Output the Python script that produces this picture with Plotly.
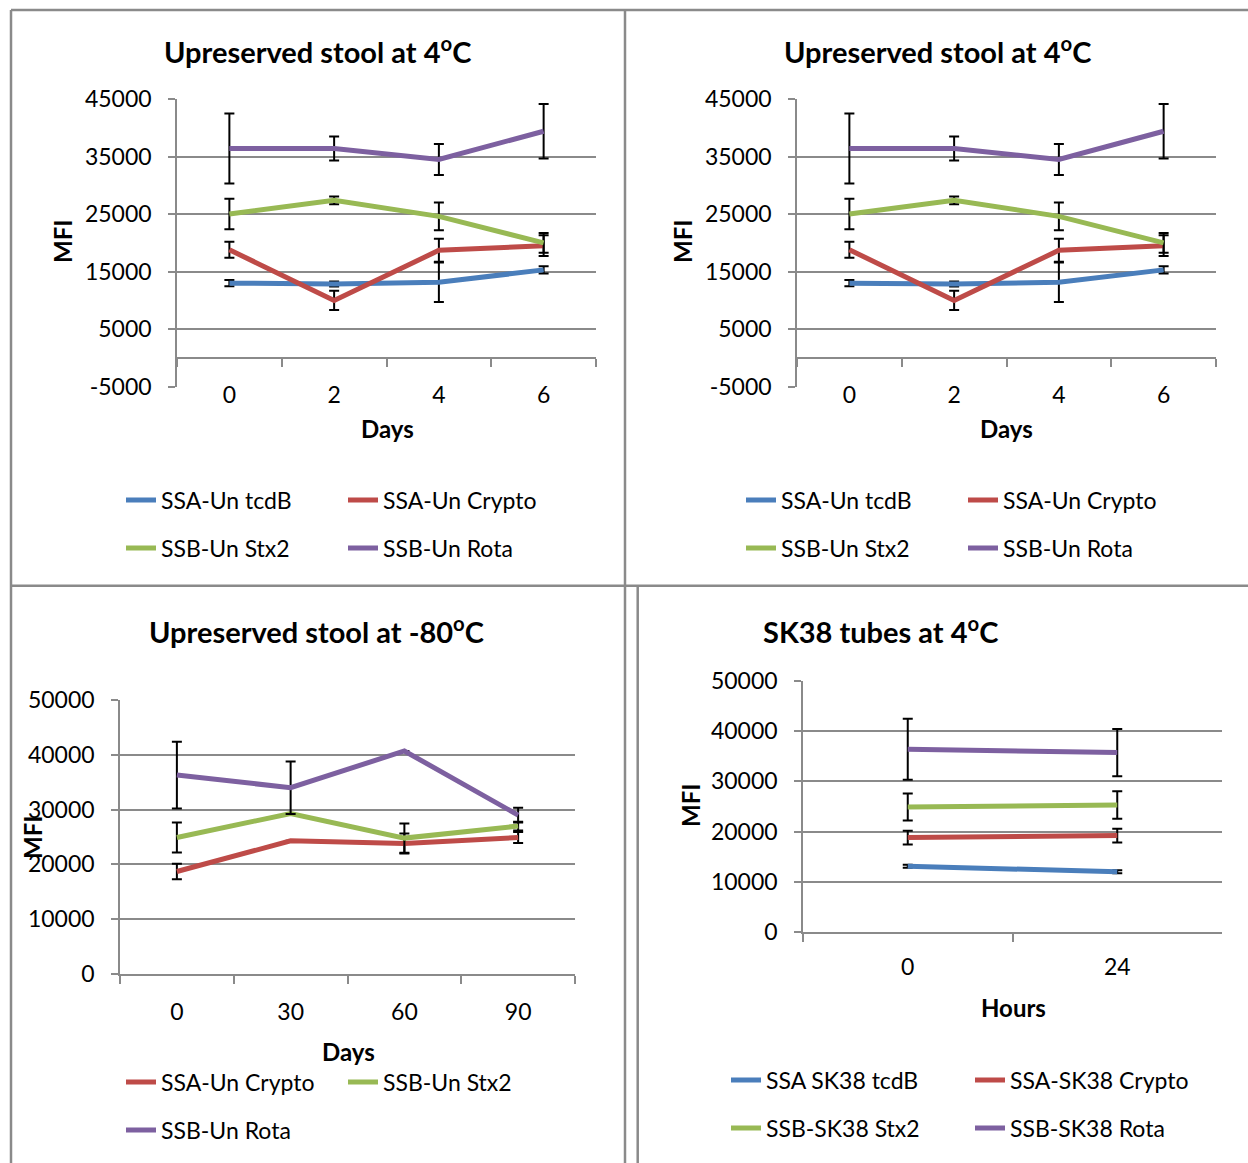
import plotly.graph_objects as go

W, H = 1248, 1163
BLUE = "#4A7EBB"; RED = "#BE4B48"; GREEN = "#98B954"; PURPLE = "#7D60A0"
GRID = "#8A8A8A"
FONT = "Lato"

# ---------------- data ----------------
days_4c = ["0", "2", "4", "6"]
tcdB_4c = [13000, 12850, 13150, 15300]
tcdB_4c_err = [550, 440, 3450, 640]
crypto_4c = [18800, 10000, 18700, 19500]
crypto_4c_err = [1370, 1690, 2000, 1800]
stx2_4c = [25000, 27400, 24600, 20000]
stx2_4c_err = [2650, 670, 2400, 1700]
rota_4c = [36400, 36400, 34500, 39400]
rota_4c_err = [6100, 2100, 2700, 4750]

days_80 = ["0", "30", "60", "90"]
crypto_80 = [18700, 24300, 23800, 24900]
crypto_80_err = [1400, None, 1830, 1000]
stx2_80 = [24900, 29300, 24800, 27000]
stx2_80_err = [2750, None, 2680, 800]
rota_80 = [36300, 34000, 40700, 29000]
rota_80_err = [6100, 4800, None, 1350]

hours_sk = ["0", "24"]
tcdB_sk = [13100, 12000]
tcdB_sk_err = [300, 300]
crypto_sk = [18800, 19200]
crypto_sk_err = [1390, 1360]
stx2_sk = [24900, 25300]
stx2_sk_err = [2690, 2720]
rota_sk = [36400, 35750]
rota_sk_err = [6070, 4700]

ticks_4c = [-5000, 5000, 15000, 25000, 35000, 45000]
ticks_50k = [0, 10000, 20000, 30000, 40000, 50000]


def px(x):
    return x / W


def py(y):
    return 1 - y / H


fig = go.Figure()

panels = [
    dict(ax="", x0=177, x1=596, y0=99, y1=386.7, yr=[-5000, 45000], yt=ticks_4c,
         title="Upreserved stool at 4<sup>o</sup>C", tpos=(317, 50), xt="Days", xtpos=(387, 428),
         mfi=(63, 242), cats=days_4c, cross0=True, standoff=17),
    dict(ax="2", x0=797, x1=1216, y0=99, y1=386.7, yr=[-5000, 45000], yt=ticks_4c,
         title="Upreserved stool at 4<sup>o</sup>C", tpos=(937, 50), xt="Days", xtpos=(1006, 428),
         mfi=(683, 242), cats=days_4c, cross0=True, standoff=17),
    dict(ax="3", x0=120, x1=575, y0=700, y1=974, yr=[0, 50000], yt=ticks_50k,
         title="Upreserved stool at -80<sup>o</sup>C", tpos=(316, 630), xt="Days", xtpos=(348, 1051),
         mfi=(32, 838), cats=days_80, cross0=False, standoff=17),
    dict(ax="4", x0=803, x1=1222, y0=681, y1=932, yr=[0, 50000], yt=ticks_50k,
         title="SK38 tubes at 4<sup>o</sup>C", tpos=(880, 630), xt="Hours", xtpos=(1013, 1007),
         mfi=(690, 806), cats=hours_sk, cross0=False, standoff=14),
]

series = [
    # panel index, name, y, err, color, legend id
    (0, "SSA-Un tcdB", tcdB_4c, tcdB_4c_err, BLUE, "legend"),
    (0, "SSA-Un Crypto", crypto_4c, crypto_4c_err, RED, "legend"),
    (0, "SSB-Un Stx2", stx2_4c, stx2_4c_err, GREEN, "legend2"),
    (0, "SSB-Un Rota", rota_4c, rota_4c_err, PURPLE, "legend2"),
    (1, "SSA-Un tcdB", tcdB_4c, tcdB_4c_err, BLUE, "legend3"),
    (1, "SSA-Un Crypto", crypto_4c, crypto_4c_err, RED, "legend3"),
    (1, "SSB-Un Stx2", stx2_4c, stx2_4c_err, GREEN, "legend4"),
    (1, "SSB-Un Rota", rota_4c, rota_4c_err, PURPLE, "legend4"),
    (2, "SSA-Un Crypto", crypto_80, crypto_80_err, RED, "legend5"),
    (2, "SSB-Un Stx2", stx2_80, stx2_80_err, GREEN, "legend5"),
    (2, "SSB-Un Rota", rota_80, rota_80_err, PURPLE, "legend6"),
    (3, "SSA SK38 tcdB", tcdB_sk, tcdB_sk_err, BLUE, "legend7"),
    (3, "SSA-SK38 Crypto", crypto_sk, crypto_sk_err, RED, "legend7"),
    (3, "SSB-SK38 Stx2", stx2_sk, stx2_sk_err, GREEN, "legend8"),
    (3, "SSB-SK38 Rota", rota_sk, rota_sk_err, PURPLE, "legend8"),
]

for pi, name, yv, ev, col, leg in series:
    p = panels[pi]
    fig.add_trace(go.Scatter(
        x=p["cats"], y=yv, name=name, mode="lines",
        line=dict(color=col, width=5),
        error_y=dict(type="data", array=ev, visible=True, color="black", thickness=2, width=5),
        xaxis="x" + p["ax"], yaxis="y" + p["ax"], legend=leg, showlegend=True,
        hoverinfo="skip",
    ))

annotations = []
layout = {}
for p in panels:
    n = len(p["cats"])
    yb, yt_ = py(p["y1"]), py(p["y0"])
    if p["cross0"]:
        frac = (0 - p["yr"][0]) / (p["yr"][1] - p["yr"][0])
        xpos = yb + frac * (yt_ - yb)
        xanchor_kw = dict(anchor="free", position=xpos)
    else:
        xanchor_kw = dict(anchor="y" + p["ax"])
    layout["xaxis" + p["ax"]] = dict(
        domain=[px(p["x0"]), px(p["x1"])], type="category", range=[-0.5, n - 0.5],
        showline=True, linecolor=GRID, linewidth=1.5, ticks="outside", tickson="boundaries",
        ticklen=8, tickwidth=1.5, tickcolor=GRID, showgrid=False, zeroline=False,
        tickfont=dict(family=FONT, size=23, color="black"), ticklabelstandoff=p["standoff"],
        fixedrange=True, automargin=False, **xanchor_kw)
    layout["yaxis" + p["ax"]] = dict(
        domain=[yb, yt_], range=p["yr"], tickvals=p["yt"], ticktext=[str(v) for v in p["yt"]],
        anchor="x" + p["ax"], showline=True, linecolor=GRID, linewidth=1.5,
        ticks="outside", ticklen=7, tickwidth=1.5, tickcolor=GRID,
        showgrid=True, gridcolor=GRID, gridwidth=1.5, zeroline=False, automargin=False,
        tickfont=dict(family=FONT, size=23, color="black"), ticklabelstandoff=12, fixedrange=True)
    annotations.append(dict(text="<b>%s</b>" % p["title"], x=px(p["tpos"][0]), y=py(p["tpos"][1]),
                            xref="paper", yref="paper", showarrow=False, xanchor="center", yanchor="middle",
                            font=dict(family=FONT, size=29, color="black")))
    annotations.append(dict(text="<b>%s</b>" % p["xt"], x=px(p["xtpos"][0]), y=py(p["xtpos"][1]),
                            xref="paper", yref="paper", showarrow=False, xanchor="center", yanchor="middle",
                            font=dict(family=FONT, size=24, color="black")))
    annotations.append(dict(text="<b>MFI</b>", x=px(p["mfi"][0]), y=py(p["mfi"][1]), textangle=-90,
                            xref="paper", yref="paper", showarrow=False, xanchor="center", yanchor="middle",
                            font=dict(family=FONT, size=24, color="black")))

# legends (position of each row)
leg_rows = {
    "legend": (121, 500), "legend2": (121, 548),
    "legend3": (741, 500), "legend4": (741, 548),
    "legend5": (121, 1082), "legend6": (121, 1130),
    "legend7": (726, 1080), "legend8": (726, 1128),
}
leg_entry = {"legend": 177, "legend2": 177, "legend3": 177, "legend4": 177,
             "legend5": 177, "legend6": 177, "legend7": 199, "legend8": 199}
for k, (lx, ly) in leg_rows.items():
    layout[k] = dict(x=px(lx), y=py(ly), xanchor="left", yanchor="middle", orientation="h",
                     font=dict(family=FONT, size=23, color="black"), bgcolor="rgba(0,0,0,0)",
                     entrywidth=leg_entry[k], entrywidthmode="pixels", itemclick=False,
                     itemdoubleclick=False, tracegroupgap=0, traceorder="normal")

# table borders
border = dict(color=GRID, width=2.5)
shapes = [
    dict(type="line", xref="paper", yref="paper", x0=px(11), x1=1, y0=py(10), y1=py(10), line=border),
    dict(type="line", xref="paper", yref="paper", x0=px(11), x1=px(11), y0=py(10), y1=0, line=border),
    dict(type="line", xref="paper", yref="paper", x0=px(625), x1=px(625), y0=py(10), y1=0, line=border),
    dict(type="line", xref="paper", yref="paper", x0=px(11), x1=1, y0=py(585.7), y1=py(585.7), line=border),
    dict(type="line", xref="paper", yref="paper", x0=px(637.7), x1=px(637.7), y0=py(585.7), y1=0, line=border),
]

fig.update_layout(width=W, height=H, margin=dict(l=0, r=0, t=0, b=0, autoexpand=False),
                  paper_bgcolor="white", plot_bgcolor="white",
                  annotations=annotations, shapes=shapes, **layout)
fig.write_html("out.html", config={"displayModeBar": False},
               default_width="%dpx" % W, default_height="%dpx" % H,
               post_script="document.body.style.margin='0';document.body.style.overflow='hidden';")
